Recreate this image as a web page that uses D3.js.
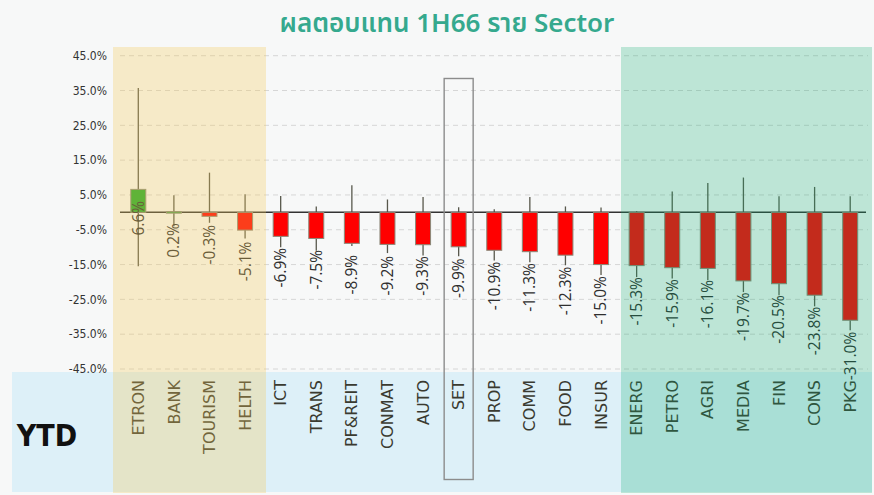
<!DOCTYPE html>
<html>
<head>
<meta charset="utf-8">
<script src="https://cdn.jsdelivr.net/npm/d3@7"></script>
<style>
  body { margin: 0; background: #f7f8f8; }
  svg { display: block; }
  .tick-y { font-family: "Liberation Sans Narrow", "DejaVu Sans Condensed", sans-serif; font-size: 12px; fill: #333; }
  .lblX { font-family: "DejaVu Sans", sans-serif; font-size: 16px; fill: #3a3a30; }
  .lblV { font-family: "Open Sans", sans-serif; font-size: 15.5px; fill: #2e2e2e; }
</style>
</head>
<body>
<div id="grafico"></div>
<script>
// Datos
const sectores = ["ETRON", "BANK", "TOURISM", "HELTH", "ICT", "TRANS", "PF&REIT", "CONMAT", "AUTO", "SET",
  "PROP", "COMM", "FOOD", "INSUR", "ENERG", "PETRO", "AGRI", "MEDIA", "FIN", "CONS", "PKG"]
const ytd = [6.6, 0.2, -0.3, -5.1, -6.9, -7.5, -8.9, -9.2, -9.3, -9.9,
  -10.9, -11.3, -12.3, -15.0, -15.3, -15.9, -16.1, -19.7, -20.5, -23.8, -31.0]
const maximo = [35.7, 4.9, 11.4, 5.2, 4.7, 1.7, 7.8, 3.7, 4.4, 1.5,
  0.9, 4.4, 1.7, 1.4, 0.3, 6.0, 8.4, 10.0, 4.6, 7.3, 4.6]
const minimo = [-15.5, -4.0, -3.0, -7.5, -10.0, -11.0, -9.7, -11.7, -12.4, -12.6,
  -13.8, -14.3, -15.2, -18.0, -18.6, -19.0, -19.5, -22.9, -23.8, -27.0, -33.9]
const ticksY = [45, 35, 25, 15, 5, -5, -15, -25, -35, -45]

const anchoTotal = 874
const altoTotal = 495
const pct = (v) => v.toFixed(1) + "%"

const svg = d3.select("#grafico")
  .append("svg")
  .attr("width", anchoTotal)
  .attr("height", altoTotal)

// Escaladores
const x = d3.scaleBand().domain(sectores).range([120.5, 868])
const y = d3.scaleLinear().domain([-45, 45]).range([369, 55.7])
const cx = (d) => x(d) + x.bandwidth() / 2

// Franja azul de etiquetas
svg.append("rect")
  .attr("x", 12).attr("y", 372)
  .attr("width", 860).attr("height", 120)
  .attr("fill", "#ddf0f8")

// Titulo
svg.append("text")
  .attr("x", 447).attr("y", 32)
  .attr("text-anchor", "middle")
  .style("font-family", "'Noto Sans Thai', 'Noto Sans', 'DejaVu Sans', sans-serif")
  .style("font-size", "26px")
  .style("font-weight", 600)
  .attr("fill", "#35a98e")
  .text("ผลตอบแทน 1H66 ราย Sector")

// Lineas de cuadricula y eje Y
const g = svg.append("g")
g.selectAll("line.grid")
  .data(ticksY)
  .enter()
  .append("line")
  .attr("x1", 120).attr("x2", 868)
  .attr("y1", (d) => y(d)).attr("y2", (d) => y(d))
  .attr("stroke", "#d6d6d6")
  .attr("stroke-dasharray", "5,4")

g.selectAll("text.tick-y")
  .data(ticksY)
  .enter()
  .append("text")
  .attr("class", "tick-y")
  .attr("x", 107)
  .attr("y", (d) => y(d))
  .attr("dy", "0.35em")
  .attr("text-anchor", "end")
  .text(pct)

// Mechas (max - min)
g.selectAll("line.mecha")
  .data(sectores)
  .enter()
  .append("line")
  .attr("x1", cx).attr("x2", cx)
  .attr("y1", (d, i) => y(maximo[i]))
  .attr("y2", (d, i) => y(minimo[i]))
  .attr("stroke", "#58584c")
  .attr("stroke-width", 1.3)

// Linea cero
g.append("line")
  .attr("x1", 120).attr("x2", 866)
  .attr("y1", y(0)).attr("y2", y(0))
  .attr("stroke", "#333")
  .attr("stroke-width", 1.5)

// Barras
const anchoBarra = 15
g.selectAll("rect.barra")
  .data(sectores)
  .enter()
  .append("rect")
  .attr("x", (d) => cx(d) - anchoBarra / 2)
  .attr("y", (d, i) => y(Math.max(0, ytd[i])))
  .attr("width", anchoBarra)
  .attr("height", (d, i) => Math.max(ytd[i] < 0 ? 4 : 1.5, Math.abs(y(ytd[i]) - y(0))))
  .attr("fill", (d, i) => ytd[i] > 0.1 ? "#1faa2a" : "#ff0000")
  .attr("stroke", "#8a8a7a")
  .attr("stroke-width", 1)

// Etiquetas de valores
g.selectAll("text.lblV")
  .data(sectores)
  .enter()
  .append("text")
  .attr("class", "lblV")
  .attr("transform", (d, i) => `translate(${cx(d)}, ${y(ytd[i]) + 11.5}) rotate(-90)`)
  .attr("text-anchor", "end")
  .attr("dy", "0.35em")
  .text((d, i) => pct(ytd[i]))

// Etiquetas de sectores
g.selectAll("text.lblX")
  .data(sectores)
  .enter()
  .append("text")
  .attr("class", "lblX")
  .attr("transform", (d) => `translate(${cx(d)}, 380) rotate(-90)`)
  .attr("text-anchor", "end")
  .attr("dy", "0.35em")
  .text((d) => d)

// Recuadro del SET
svg.append("rect")
  .attr("x", cx("SET") - 14.5).attr("y", 78.5)
  .attr("width", 29).attr("height", 401)
  .attr("fill", "none")
  .attr("stroke", "#8c8c8c")
  .attr("stroke-width", 1.4)

// Zonas sombreadas
svg.append("rect")
  .attr("x", 113).attr("y", 47)
  .attr("width", 153).attr("height", 446)
  .attr("fill", "rgb(245,202,88)")
  .attr("opacity", 0.3)
svg.append("rect")
  .attr("x", 621).attr("y", 47)
  .attr("width", 251).attr("height", 446)
  .attr("fill", "rgb(15,171,111)")
  .attr("opacity", 0.25)

// YTD
svg.append("text")
  .attr("x", 47).attr("y", 446)
  .attr("text-anchor", "middle")
  .style("font-family", "'Liberation Sans Narrow', 'DejaVu Sans Condensed', sans-serif")
  .style("font-size", "30px")
  .style("font-weight", "bold")
  .attr("fill", "#111")
  .text("YTD")
</script>
</body>
</html>
